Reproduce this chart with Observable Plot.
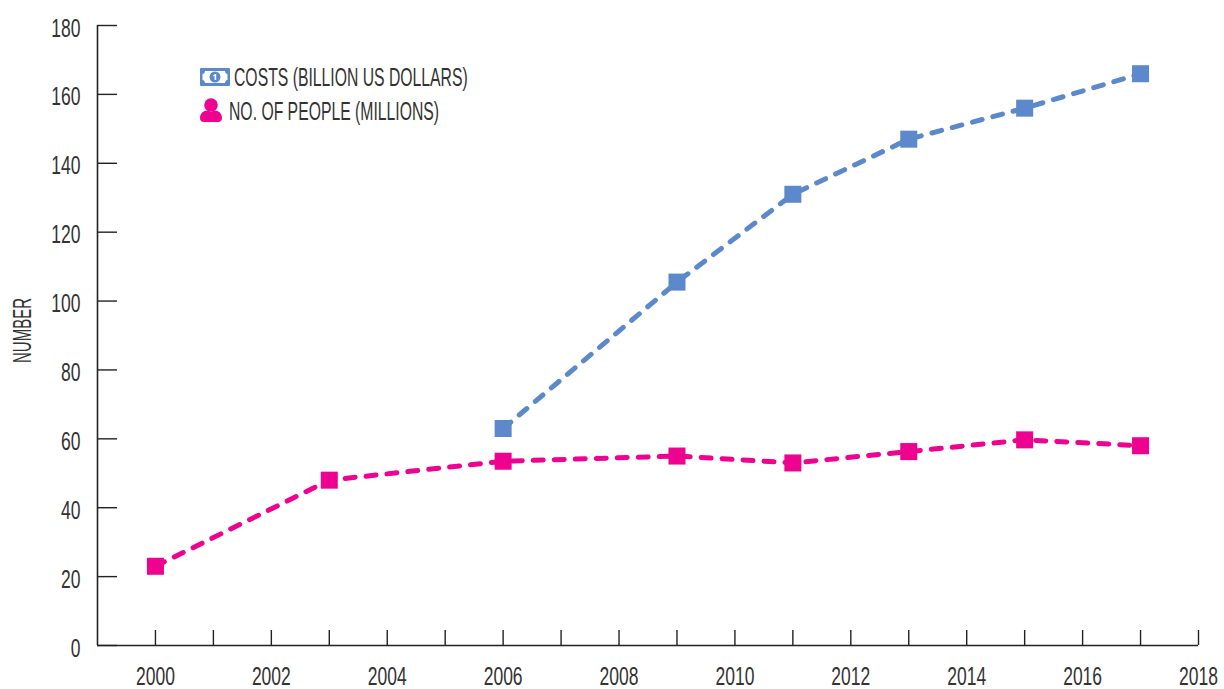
<!DOCTYPE html>
<html><head><meta charset="utf-8">
<script src="https://cdn.jsdelivr.net/npm/d3@7"></script>
<script src="https://cdn.jsdelivr.net/npm/@observablehq/plot@0.6"></script>
<style>
html,body{margin:0;padding:0;background:#fff;}
#wrap{position:relative;width:1224px;height:689px;overflow:hidden;}
.leg{position:absolute;font:25px "Liberation Sans Narrow","Liberation Sans",sans-serif;color:#333;white-space:nowrap;transform-origin:left center;transform:scaleX(.63);line-height:24px;}
.ico{position:absolute;}
</style></head><body><div id="wrap"></div>
<script>
const costYears=[2006,2009,2011,2013,2015,2017];
const costValues=[63,105.5,131,147,156,166];
const peopleYears=[2000,2003,2006,2009,2011,2013,2015,2017];
const peopleValues=[23,48,53.5,55,53,56.3,59.7,58];
const yTicks=[0,20,40,60,80,100,120,140,160,180];
const xTicksAll=d3.range(2000,2019);
const xLabels=d3.range(2000,2019,2);
const BLUE="#5b89cb",PINK="#ee0290",INK="#222",TEXT="#333";
const cost=costYears.map((x,i)=>({x,y:costValues[i]}));
const people=peopleYears.map((x,i)=>({x,y:peopleValues[i]}));
const lineOpts={x:"x",y:"y",strokeWidth:5,strokeDasharray:"10,11",strokeLinecap:"round",curve:"linear"};
const chart=Plot.plot({
  width:1224,height:689,marginLeft:97,marginRight:26,marginTop:25,marginBottom:44,
  style:{fontFamily:'"Liberation Sans Narrow","Liberation Sans",sans-serif',fontSize:"25px",color:TEXT,background:"#fff"},
  x:{domain:[1999,2018],label:null},
  y:{domain:[0,180],label:null},
  marks:[
    Plot.axisX({ticks:xTicksAll,tickSize:-15,tickFormat:()=>"",label:null,stroke:INK,strokeWidth:1.4}),
    Plot.axisX({ticks:xLabels,tickSize:0,tickPadding:20,dy:2,tickFormat:"d",label:null}),
    Plot.axisY({ticks:yTicks,tickSize:-20,tickFormat:()=>"",label:null,stroke:INK,strokeWidth:1.4}),
    Plot.axisY({ticks:yTicks,tickSize:0,tickPadding:17,dy:3,label:null}),
    Plot.text(["NUMBER"],{frameAnchor:"left",textAnchor:"middle",dx:-75,dy:-5,rotate:-90,fill:TEXT,fontSize:25}),
    Plot.ruleY([0],{stroke:INK,strokeWidth:1.6}),
    Plot.ruleX([1999],{stroke:INK,strokeWidth:1.6}),
    Plot.line(cost,{...lineOpts,stroke:BLUE}),
    Plot.line(people,{...lineOpts,stroke:PINK}),
    Plot.dot(cost,{x:"x",y:"y",symbol:"square",r:9.6,fill:BLUE}),
    Plot.dot(people,{x:"x",y:"y",symbol:"square",r:9.6,fill:PINK})
  ]
});
const wrap=document.getElementById("wrap");
wrap.appendChild(chart);
// narrow the type to the reference's condensed proportions
chart.querySelectorAll("text").forEach(t=>{
  const l=t.getComputedTextLength();
  const k=t.textContent==="NUMBER"?.6:.7;
  if(l>0){t.setAttribute("textLength",(l*k).toFixed(1));t.setAttribute("lengthAdjust","spacingAndGlyphs");}
});
wrap.insertAdjacentHTML("beforeend",`
<svg class="ico" style="left:200px;top:68px" width="30" height="18" viewBox="0 0 30 18">
<rect width="30" height="18" rx="1" fill="${BLUE}"/>
<path d="M5 3H25C25 4.5 26 6 27.5 6V12C26 12 25 13.5 25 15H5C5 13.5 4 12 2.5 12V6C4 6 5 4.5 5 3Z" fill="#fff"/>
<circle cx="15" cy="9" r="5.5" fill="${BLUE}"/><path d="M13.2 7.4L15 6H16.2V12H14.6V8L13.2 8.6Z" fill="#fff"/>
</svg>
<svg class="ico" style="left:200px;top:98px" width="22" height="24" viewBox="0 0 22 24">
<circle cx="11" cy="7" r="6.8" fill="${PINK}"/>
<path d="M0 20C0 15 4 12 8 12.5C10 14 12 14 14 12.5C18 12 22 15 22 20C22 22.5 20.5 24 18 24H4C1.5 24 0 22.5 0 20Z" fill="${PINK}"/>
</svg>
<div class="leg" style="left:234px;top:65px">COSTS (BILLION US DOLLARS)</div>
<div class="leg" style="left:229px;top:99px">NO. OF PEOPLE (MILLIONS)</div>`);
</script></body></html>
